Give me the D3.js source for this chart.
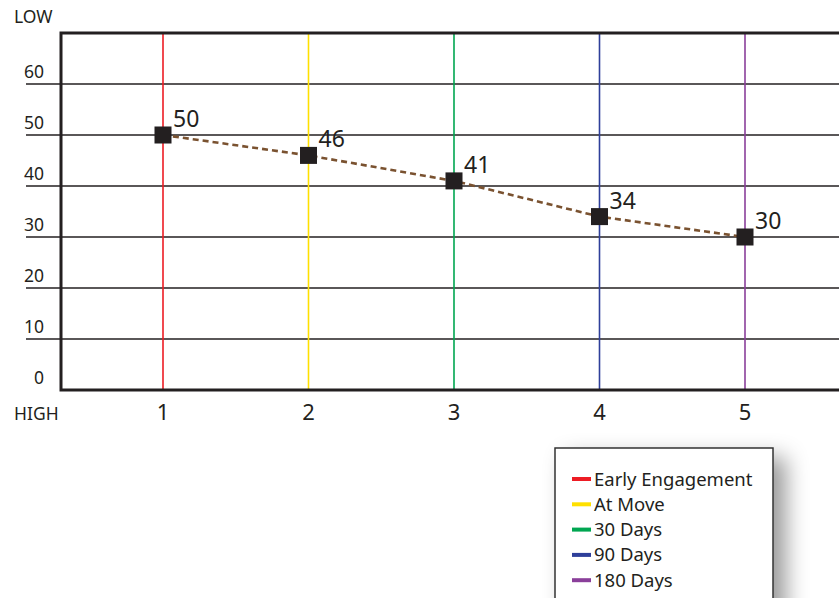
<!DOCTYPE html>
<html>
<head>
<meta charset="utf-8">
<script src="https://cdn.jsdelivr.net/npm/d3@7"></script>
<style>
  html, body { margin: 0; padding: 0; background: #fff; }
  svg { display: block; font-family: "Noto Sans", "Open Sans", sans-serif; }
</style>
</head>
<body>
<svg id="chart" width="839" height="598"></svg>
<script>
// ---- data ----
const categories = [1, 2, 3, 4, 5];
const values = [50, 46, 41, 34, 30];
const seriesNames = ["Early Engagement", "At Move", "30 Days", "90 Days", "180 Days"];
const seriesColors = ["#ed1c24", "#ffe000", "#00a651", "#2e3f9a", "#8a3f9a"];
const yTicks = [0, 10, 20, 30, 40, 50, 60];
const topLabel = "LOW";
const bottomLabel = "HIGH";

// ---- layout ----
const W = 839, H = 598;
const svg = d3.select("#chart");
const x = d3.scaleLinear().domain([1, 5]).range([163, 745]);
const y = d3.scaleLinear().domain([0, 70]).range([390, 33]);
const left = 61, ink = "#231f20";

// defs: shadow
const defs = svg.append("defs");
const f = defs.append("filter").attr("id", "shadow")
  .attr("x", "-20%").attr("y", "-20%").attr("width", "160%").attr("height", "160%");
f.append("feDropShadow").attr("dx", 12).attr("dy", 10).attr("stdDeviation", 11)
  .attr("flood-color", "#000").attr("flood-opacity", 0.4);

// gridlines (10..60) extending left of axis
svg.append("g").selectAll("line").data(yTicks.filter(d => d > 0)).join("line")
  .attr("x1", 26).attr("x2", W)
  .attr("y1", d => y(d)).attr("y2", d => y(d))
  .attr("stroke", ink).attr("stroke-width", 1.5);

// y tick labels (above lines)
svg.append("g").selectAll("text").data(yTicks).join("text")
  .attr("x", 44).attr("y", d => y(d) - 6)
  .attr("text-anchor", "end")
  .attr("font-size", 17.5).attr("fill", ink)
  .text(d => d);

// vertical colored lines
svg.append("g").selectAll("line").data(categories).join("line")
  .attr("x1", d => x(d)).attr("x2", d => x(d))
  .attr("y1", y(70)).attr("y2", y(0))
  .attr("stroke", (d, i) => seriesColors[i]).attr("stroke-width", 1.6);

// frame
svg.append("path")
  .attr("d", `M${W},${y(70)}H${left}V${y(0)}H${W}`)
  .attr("fill", "none").attr("stroke", ink).attr("stroke-width", 3);

// x tick labels
svg.append("g").selectAll("text").data(categories).join("text")
  .attr("x", d => x(d)).attr("y", 420)
  .attr("text-anchor", "middle")
  .attr("font-size", 22).attr("fill", ink)
  .text(d => d);

svg.append("text").attr("x", 14).attr("y", 23).attr("font-size", 17.5).attr("fill", ink).text(topLabel);
svg.append("text").attr("x", 14).attr("y", 420).attr("font-size", 17.5).attr("fill", ink).text(bottomLabel);

// dashed line
const pts = categories.map((c, i) => [c, values[i]]);
svg.append("path")
  .attr("d", d3.line().x(d => x(d[0])).y(d => y(d[1]))(pts))
  .attr("fill", "none").attr("stroke", "#7a5230").attr("stroke-width", 2.6)
  .attr("stroke-dasharray", "6,4");

// squares
const s = 17;
svg.append("g").selectAll("rect").data(pts).join("rect")
  .attr("x", d => x(d[0]) - s / 2).attr("y", d => y(d[1]) - s / 2)
  .attr("width", s).attr("height", s).attr("fill", ink);

// value labels
svg.append("g").selectAll("text").data(pts).join("text")
  .attr("x", d => x(d[0]) + 10).attr("y", d => y(d[1]) - 8)
  .attr("font-size", 23).attr("fill", ink)
  .text(d => d[1]);

// legend
const lg = svg.append("g").attr("transform", "translate(555,448)");
lg.append("rect").attr("width", 218).attr("height", 170)
  .attr("fill", "#fff").attr("stroke", "#333").attr("stroke-width", 1.5)
  .attr("filter", "url(#shadow)");
const items = lg.selectAll("g.item").data(seriesNames).join("g")
  .attr("transform", (d, i) => `translate(0,${31 + i * 25.3})`);
items.append("rect").attr("x", 17).attr("y", -2).attr("width", 19).attr("height", 4)
  .attr("fill", (d, i) => seriesColors[i]);
items.append("text").attr("x", 39).attr("y", 6.5)
  .attr("font-size", 18.5).attr("fill", ink).text(d => d);
</script>
</body>
</html>
